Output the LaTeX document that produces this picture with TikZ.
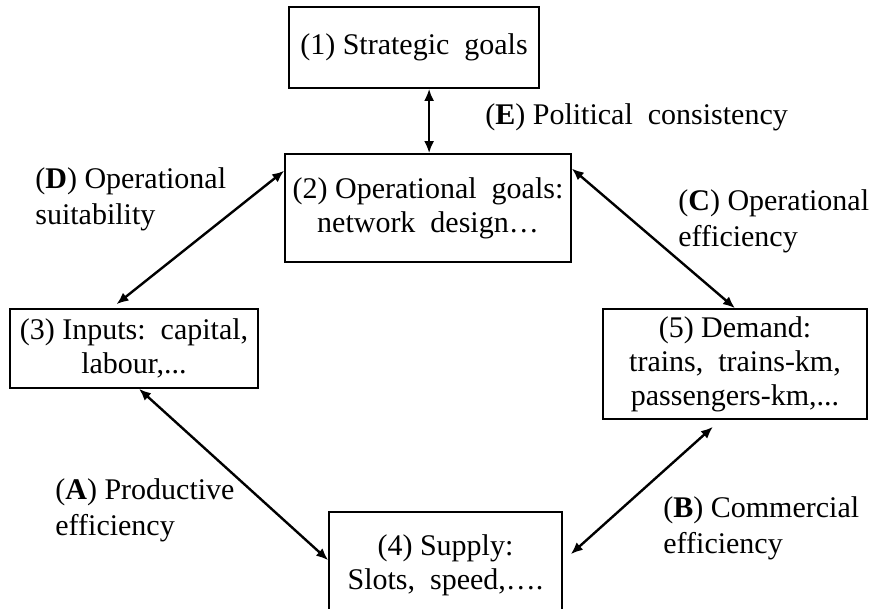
\documentclass[tikz,border=0pt]{standalone}
\usepackage{fontspec}
\setmainfont{Liberation Serif}
\usetikzlibrary{arrows.meta,calc}
\begin{document}
\begin{tikzpicture}[x=0.5pt,y=-0.5pt,
  box/.style={draw,line width=0.8pt,inner sep=0pt,align=center,
    font=\fontsize{15}{17}\selectfont},
  lbl/.style={anchor=west,align=left,inner sep=0pt,
    font=\fontsize{15}{18}\selectfont},
  link/.style={line width=1.2pt,{Latex[length=6pt,width=5pt]}-{Latex[length=6pt,width=5pt]}}]
\useasboundingbox (0,0) rectangle (875,609);

% boxes
\node[box,minimum width=125pt,minimum height=40.5pt] (b1) at (414,47.5)
  {(1) Strategic\ \ goals};
\node[box,minimum width=143pt,minimum height=54pt] (b2) at (428,208)
  {(2) Operational\ \ goals:\\network\ \ design\ldots};
\node[box,minimum width=124pt,minimum height=39.5pt] (b3) at (134,348.5)
  {(3) Inputs:\ \ capital,\\labour,...};
\node[box,minimum width=116.5pt,minimum height=53pt] (b4) at (445.5,565)
  {(4) Supply:\\Slots,\ \ speed,\ldots.};
\node[box,minimum width=132pt,minimum height=55pt] (b5) at (735,364)
  {(5) Demand:\\trains,\ \ trains-km,\\passengers-km,...};

% labels
\node[lbl] (le) at (485,117) {(\textbf{E}) Political\ \ consistency};
\node[lbl] (ld) at (35,199) {(\textbf{D}) Operational\\suitability};
\node[lbl] (lc) at (678,221) {(\textbf{C}) Operational\\efficiency};
\node[lbl] (la) at (55,510) {(\textbf{A}) Productive\\efficiency};
\node[lbl] (lb) at (663,528) {(\textbf{B}) Commercial\\efficiency};

% connector end points
\coordinate (e1) at ($(b1.south west)!0.56!(b1.south east)$);
\coordinate (d1) at ($(b2.north west)!0.16!(b2.south west)$);
\coordinate (d2) at ($(b3.north west)!0.43!(b3.north east)+(0,-4)$);
\coordinate (c1) at ($(b2.north east)!0.14!(b2.south east)$);
\coordinate (a1) at ($(b3.south west)!0.52!(b3.south east)$);
\coordinate (a2) at ($(b4.north west)+(0,49)$);
\coordinate (bb1) at ($(b5.south west)!0.417!(b5.south east)+(0,7)$);
\coordinate (bb2) at ($(b4.north east)+(8,43)$);

% connectors
\draw[link] (e1) -- (e1 |- b2.north);
\draw[link] (d1) -- (d2);
\draw[link] (c1) -- (b5.north);
\draw[link] (a1) -- (a2);
\draw[link] (bb1) -- (bb2);
\end{tikzpicture}
\end{document}
